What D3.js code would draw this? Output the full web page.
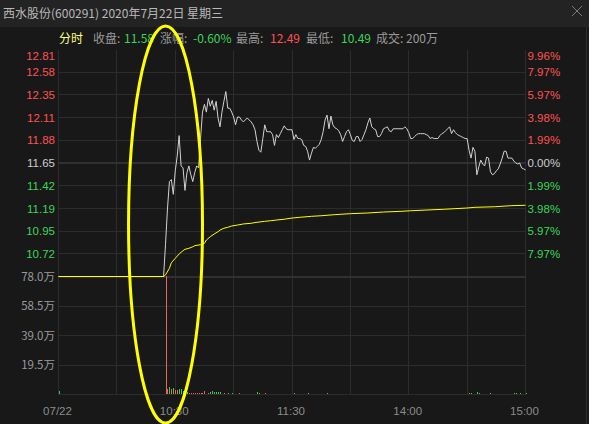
<!DOCTYPE html>
<html><head><meta charset="utf-8">
<script src="https://cdn.jsdelivr.net/npm/d3@7"></script>
<style>
html,body{margin:0;padding:0;background:#181818;overflow:hidden}
svg{display:block}
</style></head><body>
<svg id="c" width="589" height="424"></svg>
<script>
// ---------------- data ----------------
const titleText = "西水股份(600291) 2020年7月22日 星期三";
const prevClose = 11.65;
const priceHalfRange = 1.16;
const priceStep = 0.232;
const leftTickLabels = ["12.81","12.58","12.35","12.11","11.88","11.65","11.42","11.19","10.95","10.72"];
const rightTickLabels = ["9.96%","7.97%","5.97%","3.98%","1.99%","0.00%","1.99%","3.98%","5.97%","7.97%"];
const volMax = 78.0;
const volTickValues = [78.0, 58.5, 39.0, 19.5];
const volTickLabels = ["78.0万","58.5万","39.0万","19.5万"];
const xTickMinutes = [0, 60, 120, 180, 240];
const xTickLabels = ["07/22","10:30","11:30","14:00","15:00"];
const infoLabels = ["收盘:","涨幅:","最高:","最低:","成交:"];
const infoValues = ["11.58","-0.60%","12.49","10.49","200万"];
const infoValueDir = ["down","down","up","down","flat"];

// pre-open (suspended) flat segment, minutes 0..54
const preOpenEnd = 54;
const preOpenPrice = 10.49;
// minute-by-minute price, starting at minute 55 (10:25) through 240 (15:00)
const priceStart = 55;
const prices = [
 10.82,11.18,11.46,11.48,11.33,11.57,11.72,11.93,11.62,11.60,
 11.37,11.55,11.62,11.53,11.46,11.55,11.62,11.60,11.90,12.17,
 12.25,12.17,12.31,12.23,12.29,12.19,12.28,12.11,12.02,12.17,
 12.28,12.38,12.21,12.21,12.17,12.12,12.04,12.12,12.12,12.09,
 12.07,12.09,12.11,12.09,12.07,12.04,11.99,11.87,11.78,11.76,
 11.90,12.04,11.97,11.97,11.97,11.94,11.83,11.94,11.91,11.95,
 11.99,12.03,12.00,11.99,11.99,11.99,11.89,11.94,11.90,11.90,
 11.89,11.83,11.82,11.77,11.68,11.75,11.81,11.80,11.82,11.84,
 11.89,11.97,12.09,12.14,12.00,12.13,12.04,12.01,12.00,11.98,
 11.94,11.87,11.92,11.97,11.99,11.94,11.88,11.87,11.92,11.92,
 11.87,11.89,11.94,11.99,12.06,12.11,12.02,12.00,11.99,11.92,
 11.92,11.95,12.00,12.01,12.02,11.98,11.97,12.00,12.00,12.00,
 12.00,12.00,12.00,12.02,12.00,11.96,11.90,11.90,11.92,11.94,
 11.95,11.95,11.95,11.95,11.94,11.93,11.90,11.91,11.90,11.90,
 11.90,11.93,11.95,11.96,11.98,12.00,12.02,11.95,11.99,11.96,
 11.94,11.93,11.92,11.91,11.90,11.90,11.78,11.70,11.81,11.77,
 11.53,11.61,11.68,11.64,11.62,11.71,11.70,11.56,11.53,11.54,
 11.57,11.59,11.64,11.70,11.77,11.77,11.70,11.70,11.70,11.67,
 11.65,11.64,11.65,11.60,11.59,11.58
];
// average price line, read at sample minutes
const avgMinutes = [54,55,57,58,60,62,64,65,67,69,70,73,75,76,78,80,82,83,85,87,89,92,95,99,102,106,109,112,116,119,124,130,135,142,150,159,167,176,181,198,210,214,224,233,240];
const avgValues  = [10.49,10.506,10.574,10.63,10.676,10.72,10.754,10.768,10.778,10.794,10.805,10.815,10.829,10.863,10.897,10.924,10.948,10.965,10.983,10.993,11.006,11.016,11.027,11.034,11.044,11.054,11.06,11.067,11.075,11.085,11.095,11.105,11.111,11.122,11.132,11.139,11.149,11.156,11.162,11.177,11.19,11.197,11.203,11.214,11.218];
// volume (万), minute index and direction (1 up/red, -1 down/green)
const volMinutes = [0,55,56,57,58,59,60,61,62,63,64,65,66,67,68,69,70,71,72,73,74,75,77,78,79,80,81,82,83,85,87,89,93,102,103,106,121,128,138,211,212,215,216,222,234,235,237,240];
const volValues  = [1.8,78,3.3,4.6,3.3,3.7,2.4,2.6,3.3,3.3,2.2,1.3,1.3,0.7,0.7,0.7,0.7,0.7,0.7,0.7,0.7,2.0,0.9,1.3,1.8,1.1,1.3,1.3,1.3,0.6,0.6,0.6,0.6,1.3,0.6,0.6,0.6,0.6,0.6,0.6,0.6,1.3,0.6,0.6,0.6,0.6,0.6,0.6];
const volDir     = [-1,1,1,-1,1,-1,1,1,-1,-1,-1,1,-1,1,1,1,1,1,1,1,1,1,1,-1,-1,-1,-1,-1,-1,1,-1,-1,1,-1,-1,1,-1,-1,1,-1,-1,-1,-1,-1,-1,-1,-1,-1];

// ---------------- styles ----------------
const C = {
  bg: "#181818", bar: "#232323", grid: "#2c2c2c", gridStrong: "#303030",
  up: "#ff5252", down: "#3bd65a", neutral: "#cfcfcf", label: "#9a9a9a",
  axis: "#8c8c8c", price: "#d2d2d2", avg: "#ffff00", title: "#b9b9b9", tab: "#ffff80",
  volUp: "#f06262", volDown: "#38cc55"
};
const numFont = "'Liberation Sans', Arial, sans-serif";
const cjkFont = "'Noto Sans CJK SC', 'Liberation Sans', sans-serif";

const svg = d3.select("#c");
const W = 589, H = 424;
const L = 58.5, R = 525.5, T = 49.5, PB = 276.5, VB = 394.5;

svg.append("rect").attr("width", W).attr("height", H).attr("fill", C.bg);
svg.append("rect").attr("width", W).attr("height", 27).attr("fill", C.bar);
svg.append("line").attr("x1", 586.5).attr("x2", 586.5).attr("y1", 27).attr("y2", H)
  .attr("stroke", "#2e2e2e").attr("shape-rendering", "crispEdges");

// title
svg.append("text").attr("x", 3).attr("y", 17.5).attr("fill", C.title)
  .style("font-family", cjkFont).style("font-size", "12px").text(titleText);
// close X
svg.append("path").attr("d", "M572,6L582,16M582,6L572,16").attr("stroke", "#7a7a7a").attr("stroke-width", 1).attr("fill", "none");

// info line
const infoY = 42.5;
svg.append("text").attr("x", 59).attr("y", infoY).attr("fill", C.tab)
  .style("font-family", cjkFont).style("font-size", "12px").text("分时");
const labelX = [93, 160, 236, 306, 376];
const valueX = [124, 193, 270, 341, 406];
infoLabels.forEach((t, i) => {
  svg.append("text").attr("x", labelX[i]).attr("y", infoY).attr("fill", C.label)
    .style("font-family", cjkFont).style("font-size", "12px").text(t);
  const col = infoValueDir[i] === "up" ? C.up : infoValueDir[i] === "down" ? C.down : C.label;
  svg.append("text").attr("x", valueX[i]).attr("y", infoY).attr("fill", col)
    .style("font-family", cjkFont).style("font-size", "12px").text(infoValues[i]);
});

// scales
const x = d3.scaleLinear().domain([0, 240]).range([L, R]);
const y = d3.scaleLinear().domain([prevClose - priceHalfRange, prevClose + priceHalfRange]).range([PB, T]);
const yv = d3.scaleLinear().domain([0, volMax]).range([VB, PB]);

const g = svg.append("g").attr("shape-rendering", "crispEdges");
// vertical grid
d3.range(0, 241, 30).forEach(m => {
  const xx = Math.round(x(m) - 0.5) + 0.5;
  g.append("line").attr("x1", xx).attr("x2", xx).attr("y1", T).attr("y2", VB)
    .attr("stroke", C.grid);
});
// horizontal price grid
const priceTicks = leftTickLabels.map((_, j) => prevClose + (5 - j) * priceStep);
priceTicks.forEach((v, j) => {
  if (j === 0) return;
  if (j === 5) {
    g.append("rect").attr("x", L - 0.5).attr("y", Math.round(y(v)) - 1).attr("width", R - L + 1).attr("height", 2).attr("fill", C.gridStrong);
  } else {
    const yy = Math.round(y(v) - 0.5) + 0.5;
    g.append("line").attr("x1", L).attr("x2", R).attr("y1", yy).attr("y2", yy).attr("stroke", C.grid);
  }
});
// separator between price and volume
g.append("rect").attr("x", L - 0.5).attr("y", Math.round(PB) - 1).attr("width", R - L + 1).attr("height", 2).attr("fill", C.gridStrong);
// volume grid
[19.5, 39.0, 58.5, 0].forEach(v => {
  const yy = Math.round(yv(v) - 0.5) + 0.5;
  g.append("line").attr("x1", L).attr("x2", R).attr("y1", yy).attr("y2", yy).attr("stroke", C.grid);
});

// left / right price labels
priceTicks.forEach((v, j) => {
  const col = j < 5 ? C.up : j === 5 ? C.neutral : C.down;
  const yy = j === 0 ? y(v) + 6.5 : y(v);
  svg.append("text").attr("x", 55).attr("y", yy).attr("dy", "0.36em").attr("text-anchor", "end")
    .attr("fill", col).style("font-family", numFont).style("font-size", "11.5px").text(leftTickLabels[j]);
  svg.append("text").attr("x", 527.5).attr("y", yy).attr("dy", "0.36em")
    .attr("fill", col).style("font-family", numFont).style("font-size", "11.5px").text(rightTickLabels[j]);
});
// volume labels
volTickValues.forEach((v, i) => {
  svg.append("text").attr("x", 55).attr("y", yv(v)).attr("dy", "0.36em").attr("text-anchor", "end")
    .attr("fill", C.label).style("font-family", cjkFont).style("font-size", "11.5px").text(volTickLabels[i]);
});
// x labels
xTickMinutes.forEach((m, i) => {
  svg.append("text").attr("x", x(m) - 1).attr("y", 411).attr("dy", "0.36em").attr("text-anchor", "middle")
    .attr("fill", C.axis).style("font-family", numFont).style("font-size", "11.5px").text(xTickLabels[i]);
});

// volume bars
const vb = svg.append("g").attr("shape-rendering", "crispEdges");
volMinutes.forEach((m, i) => {
  const top = yv(volValues[i]);
  const h = Math.max(1, Math.round(VB - top));
  vb.append("rect").attr("x", Math.round(x(m))).attr("y", Math.round(VB - 0.5) - h)
    .attr("width", 1).attr("height", h).attr("fill", volDir[i] > 0 ? C.volUp : C.volDown);
});

// price line
const pricePts = [[0, preOpenPrice], [preOpenEnd, preOpenPrice]].concat(prices.map((p, i) => [priceStart + i, p]));
const line = d3.line().x(d => x(d[0])).y(d => y(d[1]));
svg.append("path").attr("d", line(pricePts)).attr("fill", "none").attr("stroke", C.price).attr("stroke-width", 1);
// average line
const avgPts = [[0, preOpenPrice]].concat(avgMinutes.map((m, i) => [m, avgValues[i]]));
svg.append("path").attr("d", line(avgPts)).attr("fill", "none").attr("stroke", C.avg).attr("stroke-width", 1);

// highlight ellipse annotation around the resumption spike
const hlFrom = 36, hlTo = 74;
svg.append("ellipse").attr("cx", (x(hlFrom) + x(hlTo)) / 2).attr("cy", 224.5)
  .attr("rx", (x(hlTo) - x(hlFrom)) / 2).attr("ry", 198.5)
  .attr("fill", "none").attr("stroke", "#ffff00").attr("stroke-width", 3);
</script>
</body></html>
